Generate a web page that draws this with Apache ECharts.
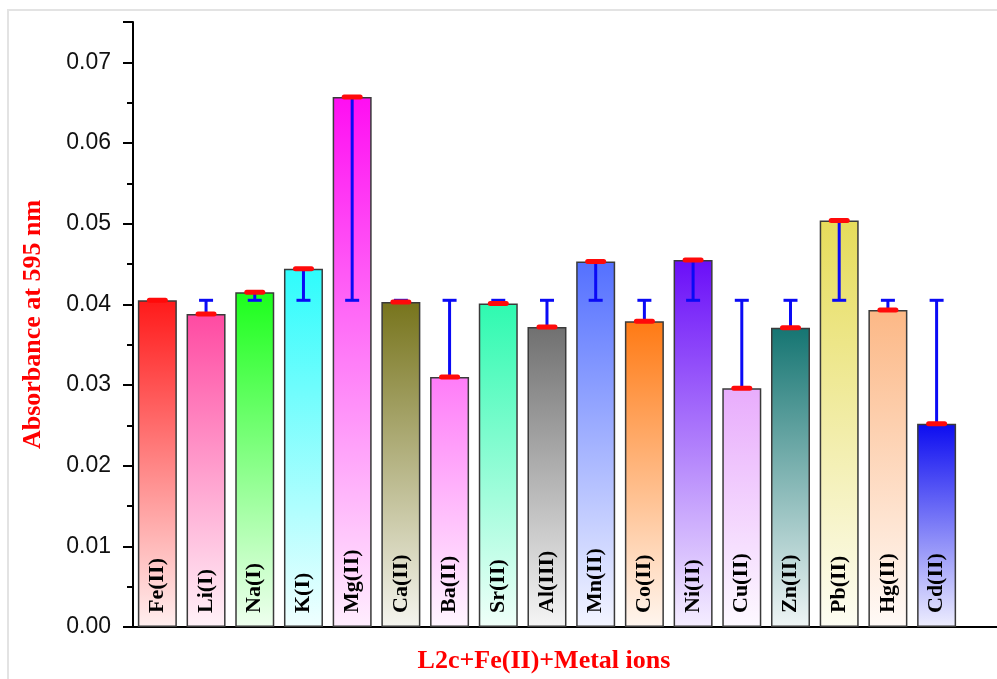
<!DOCTYPE html>
<html>
<head>
<meta charset="utf-8">
<script src="https://cdn.jsdelivr.net/npm/echarts@6/dist/echarts.min.js"></script>
<style>
  html, body { margin: 0; padding: 0; background: #ffffff; }
  #chart { width: 997px; height: 679px; }
</style>
</head>
<body>
<div id="chart"></div>
<script>
// Metal ions added to L2c + Fe(II)
const categories = ['Fe(II)', 'Li(I)', 'Na(I)', 'K(I)', 'Mg(II)', 'Ca(II)', 'Ba(II)', 'Sr(II)', 'Al(III)',
  'Mn(II)', 'Co(II)', 'Ni(II)', 'Cu(II)', 'Zn(II)', 'Pb(II)', 'Hg(II)', 'Cd(II)'];

// Absorbance at 595 nm for each mixture
const absorbance = [0.0405, 0.0388, 0.0415, 0.0444, 0.0657, 0.0403, 0.0310, 0.0401, 0.0372,
  0.0453, 0.0379, 0.0455, 0.0296, 0.0371, 0.0504, 0.0393, 0.0252];

// Absorbance of the L2c + Fe(II) reference; each bar's deviation bar ends here
const referenceAbsorbance = 0.0405;

// Bar fill colours (top of each gradient)
const barColors = ['#ff1a1a', '#ff4aa2', '#1cff1c', '#2efcfc', '#ff0ef2', '#77741c', '#ff7cf8', '#2efab0', '#707070',
  '#5470ff', '#ff7a14', '#6a0ef8', '#e8acfc', '#157572', '#e6dc5a', '#fcb886', '#0c0cf0'];

function lighten(hex, t) {
  const n = parseInt(hex.slice(1), 16);
  const r = (n >> 16) & 255, g = (n >> 8) & 255, b = n & 255;
  const m = c => Math.round(c + (255 - c) * t);
  return 'rgb(' + m(r) + ',' + m(g) + ',' + m(b) + ')';
}

const chart = echarts.init(document.getElementById('chart'), null, { renderer: 'canvas' });

const barData = categories.map((name, i) => ({
  value: [i + 1, absorbance[i]],
  itemStyle: {
    color: new echarts.graphic.LinearGradient(0, 0, 0, 1, [
      { offset: 0, color: barColors[i] },
      { offset: 1, color: lighten(barColors[i], 0.93) }
    ])
  }
}));

const errData = categories.map((name, i) => [i + 1, absorbance[i], referenceAbsorbance]);

const option = {
  backgroundColor: '#ffffff',
  animation: false,
  grid: { left: 133, right: 0, top: 22, bottom: 52, containLabel: false },
  graphic: [
    {
      type: 'rect',
      shape: { x: 8, y: 10, width: 1100, height: 800 },
      style: { fill: 'none', stroke: '#e3e3e3', lineWidth: 2 },
      silent: true,
      z: -1
    },
    {
      type: 'text',
      x: 544,
      y: 661,
      style: {
        text: 'L2c+Fe(II)+Metal ions',
        fill: '#ff0000',
        font: 'bold 26px "Liberation Serif", "Times New Roman", serif',
        align: 'center',
        verticalAlign: 'middle'
      }
    }
  ],
  xAxis: {
    type: 'value',
    min: 0.5,
    max: 18.24,
    axisLine: { show: true, onZero: false, lineStyle: { color: '#000', width: 2 } },
    axisTick: { show: false },
    axisLabel: { show: false },
    splitLine: { show: false }
  },
  yAxis: {
    type: 'value',
    min: 0,
    max: 0.075,
    interval: 0.01,
    name: 'Absorbance at 595 nm',
    nameLocation: 'middle',
    nameGap: 87,
    nameTextStyle: {
      color: '#ff0000',
      fontFamily: '"Liberation Serif", "Times New Roman", serif',
      fontWeight: 'bold',
      fontSize: 26
    },
    axisLine: { show: true, onZero: false, lineStyle: { color: '#000', width: 2 } },
    axisTick: { show: true, inside: false, length: 10, lineStyle: { color: '#000', width: 2 } },
    minorTick: { show: true, splitNumber: 2, length: 6, lineStyle: { color: '#000', width: 2 } },
    axisLabel: {
      color: '#111',
      fontFamily: '"Liberation Sans", Arial, sans-serif',
      fontSize: 23,
      margin: 22,
      showMaxLabel: false,
      formatter: v => v.toFixed(2)
    },
    splitLine: { show: false }
  },
  series: [
    {
      type: 'bar',
      barWidth: 39,
      data: barData,
      itemStyle: { borderColor: '#3a3a3a', borderWidth: 1.5 },
      label: {
        show: true,
        position: 'insideBottom',
        distance: 14,
        rotate: 90,
        align: 'left',
        verticalAlign: 'middle',
        color: '#000',
        fontFamily: '"Liberation Serif", "Times New Roman", serif',
        fontWeight: 'bold',
        fontSize: 22,
        formatter: p => categories[p.dataIndex]
      },
      z: 2
    },
    {
      type: 'custom',
      data: errData,
      z: 5,
      renderItem: function (params, api) {
        const x = api.value(0);
        const top = api.coord([x, api.value(1)]);
        const ref = api.coord([x, api.value(2)]);
        const children = [];
        if (Math.abs(top[1] - ref[1]) > 0.5) {
          children.push({
            type: 'line',
            shape: { x1: ref[0], y1: ref[1], x2: top[0], y2: top[1] },
            style: { stroke: '#0a0af5', lineWidth: 3 }
          });
          children.push({
            type: 'line',
            shape: { x1: ref[0] - 7, y1: ref[1], x2: ref[0] + 7, y2: ref[1] },
            style: { stroke: '#0a0af5', lineWidth: 3 }
          });
        }
        children.push({
          type: 'line',
          shape: { x1: top[0] - 8, y1: top[1], x2: top[0] + 8, y2: top[1] },
          style: { stroke: '#ff0a0a', lineWidth: 5, lineCap: 'round' }
        });
        return { type: 'group', children: children };
      }
    }
  ]
};

chart.setOption(option);
</script>
</body>
</html>
